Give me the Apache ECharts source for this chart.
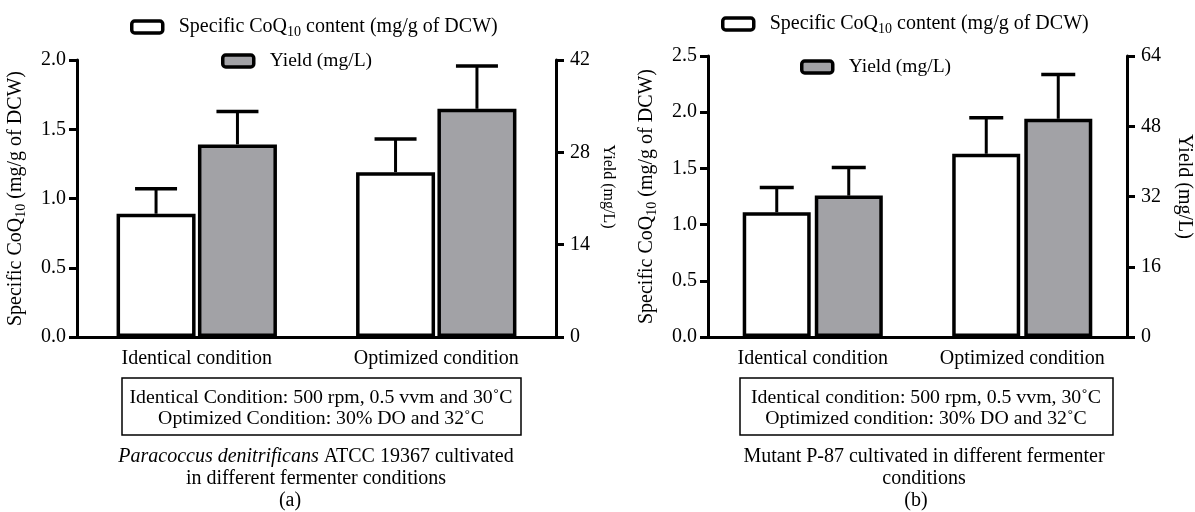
<!DOCTYPE html>
<html>
<head>
<meta charset="UTF-8">
<title>CoQ10 fermenter</title>
<script src="https://cdn.jsdelivr.net/npm/echarts@6/dist/echarts.min.js"></script>
<style>
  body { margin: 0; padding: 0; background: #fff; }
  #main { width: 1195px; height: 512px; }
</style>
</head>
<body>
<div id="main"></div>
<script>
// values
const categories = ['Identical condition', 'Optimized condition'];
const contentA = [0.89, 1.19];
const contentErrA = [0.18, 0.24];
const yieldA = [29.2, 34.6];
const yieldErrA = [5.0, 6.5];
const contentB = [1.11, 1.63];
const contentErrB = [0.22, 0.32];
const yieldB = [32.2, 49.7];
const yieldErrB = [6.4, 10.1];

const nameContent = 'Specific CoQ10 content (mg/g of DCW)';
const nameYield = 'Yield (mg/L)';
const FONT = 'Liberation Serif';
const GRAY = '#a2a2a6';

const chart = echarts.init(document.getElementById('main'));

function makeRich(size) {
  return {
    n: { fontFamily: FONT, fontSize: size, color: '#000', lineHeight: 24 },
    s: { fontFamily: FONT, fontSize: Math.round(size * 0.68), color: '#000', lineHeight: 14, verticalAlign: 'bottom' }
  };
}

function subQ(text) {
  return text.split('CoQ10').map(t => '{n|' + t + '}').join('{n|CoQ}{s|10}').replace(/\{n\|\}/g, '');
}

function errRender(offset, halfCap) {
  return function (params, api) {
    const top = api.coord([api.value(0), api.value(1)]);
    const cap = api.coord([api.value(0), api.value(1) + api.value(2)]);
    const x = top[0] + offset;
    return {
      type: 'group',
      children: [
        { type: 'line', shape: { x1: x, y1: top[1], x2: x, y2: cap[1] }, style: { stroke: '#000', lineWidth: 3 } },
        { type: 'line', shape: { x1: x - halfCap, y1: cap[1], x2: x + halfCap, y2: cap[1] }, style: { stroke: '#000', lineWidth: 3.5 } }
      ]
    };
  };
}

function errData(vals, errs) {
  return vals.map((v, i) => [i, v, errs[i]]);
}

const axisLine = { lineStyle: { color: '#000', width: 3 } };
const axisTick = { length: 8, lineStyle: { color: '#000', width: 3 } };

function xAxis(gridIndex) {
  return {
    type: 'category', gridIndex: gridIndex, data: categories,
    axisLine: axisLine,
    axisTick: { alignWithLabel: true, length: 9, lineStyle: { color: '#000', width: 3 } },
    axisLabel: { color: '#000', fontFamily: FONT, fontSize: 20, margin: 12, interval: 0, hideOverlap: false }
  };
}

function yAxis(gridIndex, pos, max, interval, name, gap, fmt, nameSize, namePad) {
  return {
    type: 'value', gridIndex: gridIndex, position: pos, min: 0, max: max, interval: interval,
    name: name, nameLocation: 'middle', nameGap: gap, nameRotate: pos === 'left' ? 90 : -90,
    nameTextStyle: { fontFamily: FONT, fontSize: nameSize, color: '#000', rich: makeRich(nameSize), padding: namePad },
    axisLine: Object.assign({ show: true }, axisLine),
    axisTick: Object.assign({ show: true }, axisTick),
    axisLabel: { formatter: fmt, color: '#000', fontFamily: FONT, fontSize: 20, margin: pos === 'left' ? 11 : 14 },
    splitLine: { show: false }
  };
}

const fmt1 = v => v.toFixed(1);
const fmt0 = v => String(v);

function legend(name, left, top, size) {
  return {
    data: [name], left: left, top: top, padding: 0, selectedMode: false,
    itemWidth: 31, itemHeight: 12,
    itemStyle: { borderColor: '#000', borderWidth: 3.5 },
    formatter: n => subQ(n),
    textStyle: { fontFamily: FONT, fontSize: size, color: '#000', rich: makeRich(size), padding: [0, 0, 0, 11] }
  };
}

function barSeries(name, x, y, data, color, width, gap) {
  return {
    name: name, type: 'bar', xAxisIndex: x, yAxisIndex: y, data: data,
    barWidth: width, barGap: gap,
    itemStyle: { color: color, borderColor: '#000', borderWidth: 3.5 },
    emphasis: { disabled: true }, z: 2
  };
}

function errSeries(x, y, vals, errs, offset, halfCap) {
  return {
    name: 'err', type: 'custom', xAxisIndex: x, yAxisIndex: y,
    data: errData(vals, errs), renderItem: errRender(offset, halfCap),
    encode: { x: 0, y: 1 }, z: 3, silent: true
  };
}

function txt(text, x, y, size, extra) {
  return {
    type: 'text', x: x, y: y,
    style: Object.assign({ text: text, fontFamily: FONT, fontSize: size, fill: '#000', align: 'center', verticalAlign: 'middle' }, extra || {})
  };
}

chart.setOption({
  animation: false,
  grid: [
    { left: 77, right: 639, top: 60, bottom: 175 },
    { left: 708, right: 65, top: 56, bottom: 175 }
  ],
  legend: [
    legend(nameContent, 130, 17, 20),
    legend(nameYield, 221, 51, 19.5),
    legend(nameContent, 721, 14, 20),
    legend(nameYield, 800, 57, 19.5)
  ],
  xAxis: [xAxis(0), xAxis(1)],
  yAxis: [
    yAxis(0, 'left', 2, 0.5, subQ('Specific CoQ10 (mg/g of DCW)'), 49, fmt1, 20, 0),
    yAxis(0, 'right', 42, 14, nameYield, 44, fmt0, 16, [0, 24, 0, 0]),
    yAxis(1, 'left', 2.5, 0.5, subQ('Specific CoQ10 (mg/g of DCW)'), 49, fmt1, 20, 0),
    yAxis(1, 'right', 64, 16, nameYield, 47, fmt0, 20, [0, 20, 0, 0])
  ],
  series: [
    barSeries(nameContent, 0, 0, contentA, '#fff', 79, '3%'),
    barSeries(nameYield, 0, 1, yieldA, GRAY, 79, '3%'),
    errSeries(0, 0, contentA, contentErrA, -40.7, 21),
    errSeries(0, 1, yieldA, yieldErrA, 40.7, 21),
    barSeries(nameContent, 1, 2, contentB, '#fff', 68, '6%'),
    barSeries(nameYield, 1, 3, yieldB, GRAY, 68, '6%'),
    errSeries(1, 2, contentB, contentErrB, -36, 17),
    errSeries(1, 3, yieldB, yieldErrB, 36, 17)
  ],
  graphic: [
    { type: 'rect', shape: { x: 122, y: 378, width: 399, height: 57 }, style: { fill: '#fff', stroke: '#000', lineWidth: 1.5 } },
    txt('Identical Condition: 500 rpm, 0.5 vvm and 30˚C', 321, 398, 19.8),
    txt('Optimized Condition: 30% DO and 32˚C', 321, 419, 19.8),
    txt('{i|Paracoccus denitrificans} ATCC 19367 cultivated', 316, 457, 20,
      { rich: { i: { fontFamily: FONT, fontSize: 20, fontStyle: 'italic', fill: '#000' } } }),
    txt('in different fermenter conditions', 316, 479, 20),
    txt('(a)', 290, 501, 20),
    { type: 'rect', shape: { x: 740, y: 378, width: 373, height: 57 }, style: { fill: '#fff', stroke: '#000', lineWidth: 1.5 } },
    txt('Identical condition: 500 rpm, 0.5 vvm, 30˚C', 926, 398, 19.8),
    txt('Optimized condition: 30% DO and 32˚C', 926, 419, 19.8),
    txt('Mutant P-87 cultivated in different fermenter', 924, 457, 20),
    txt('conditions', 924, 479, 20),
    txt('(b)', 916, 501, 20)
  ]
});
</script>
</body>
</html>
